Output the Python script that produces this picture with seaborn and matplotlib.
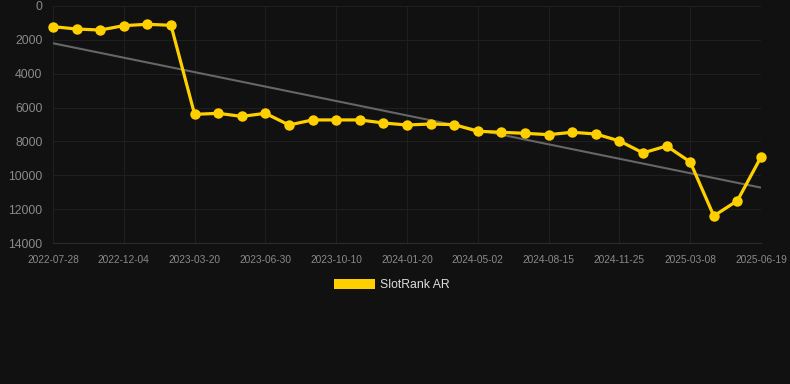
import numpy as np
import pandas as pd
import matplotlib
matplotlib.use('Agg')
import matplotlib.pyplot as plt
from matplotlib.patches import Patch
import seaborn as sns

# rank values (lower is better, axis inverted)
ranks = [1220, 1360, 1420, 1160, 1080, 1140, 6400, 6340, 6520, 6340,
         7030, 6730, 6730, 6730, 6910, 7030, 6970, 7010, 7400, 7460,
         7520, 7600, 7460, 7560, 7970, 8680, 8270, 9210, 12400, 11500, 8920]
tick_labels = ['2022-07-28', '2022-12-04', '2023-03-20', '2023-06-30', '2023-10-10',
               '2024-01-20', '2024-05-02', '2024-08-15', '2024-11-25', '2025-03-08',
               '2025-06-19']
trend_ends = [2200, 10730]
series_name = 'SlotRank AR'

df = pd.DataFrame({'pos': np.arange(len(ranks)), 'rank': ranks})
trend_df = pd.DataFrame({'pos': [0, len(ranks) - 1], 'rank': trend_ends})

sns.set_style('dark')
plt.rcParams['font.family'] = ['Liberation Sans', 'DejaVu Sans']

bg = '#111111'
fig = plt.figure(figsize=(7.9, 3.84), dpi=100, facecolor=bg)
ax = fig.add_axes([53 / 790, 1 - 243 / 384, 708 / 790, 237 / 384])
ax.set_facecolor(bg)

sns.lineplot(data=trend_df, x='pos', y='rank', color='#666666', lw=1.5, ax=ax, zorder=2)
sns.lineplot(data=df, x='pos', y='rank', color='#FFD000', lw=2.3, marker='o',
             markersize=7.5, markeredgewidth=0, ax=ax, zorder=3, clip_on=False)

ax.set_xlim(0, len(ranks) - 1)
ax.set_ylim(14000, 0)
ax.set_xticks(np.arange(0, len(ranks), 3))
ax.set_xticklabels(tick_labels)
ax.set_yticks(np.arange(0, 14001, 2000))
ax.set_xlabel('')
ax.set_ylabel('')
ax.grid(True, color='#1f1f1f', lw=0.8)
for s in ax.spines.values():
    s.set_visible(False)
ax.spines['bottom'].set_visible(True)
ax.spines['bottom'].set_color('#2c2c2c')
ax.spines['bottom'].set_linewidth(0.8)
ax.tick_params(axis='x', colors='#1f1f1f', labelcolor='#8a8a8a', labelsize=7.3,
               length=5, width=0.8, pad=3.5)
ax.tick_params(axis='y', colors='#1f1f1f', labelcolor='#8a8a8a', labelsize=8.8,
               length=0, pad=7.5)

handle = Patch(facecolor='#FFD000', edgecolor='none')
fig.legend([handle], [series_name], loc='center', bbox_to_anchor=(392 / 790, 1 - 285 / 384),
           frameon=False, fontsize=8.8, labelcolor='#dddddd', handlelength=3.3,
           handleheight=0.85, handletextpad=0.45)

fig.savefig('out.png', dpi=100, facecolor=bg)
